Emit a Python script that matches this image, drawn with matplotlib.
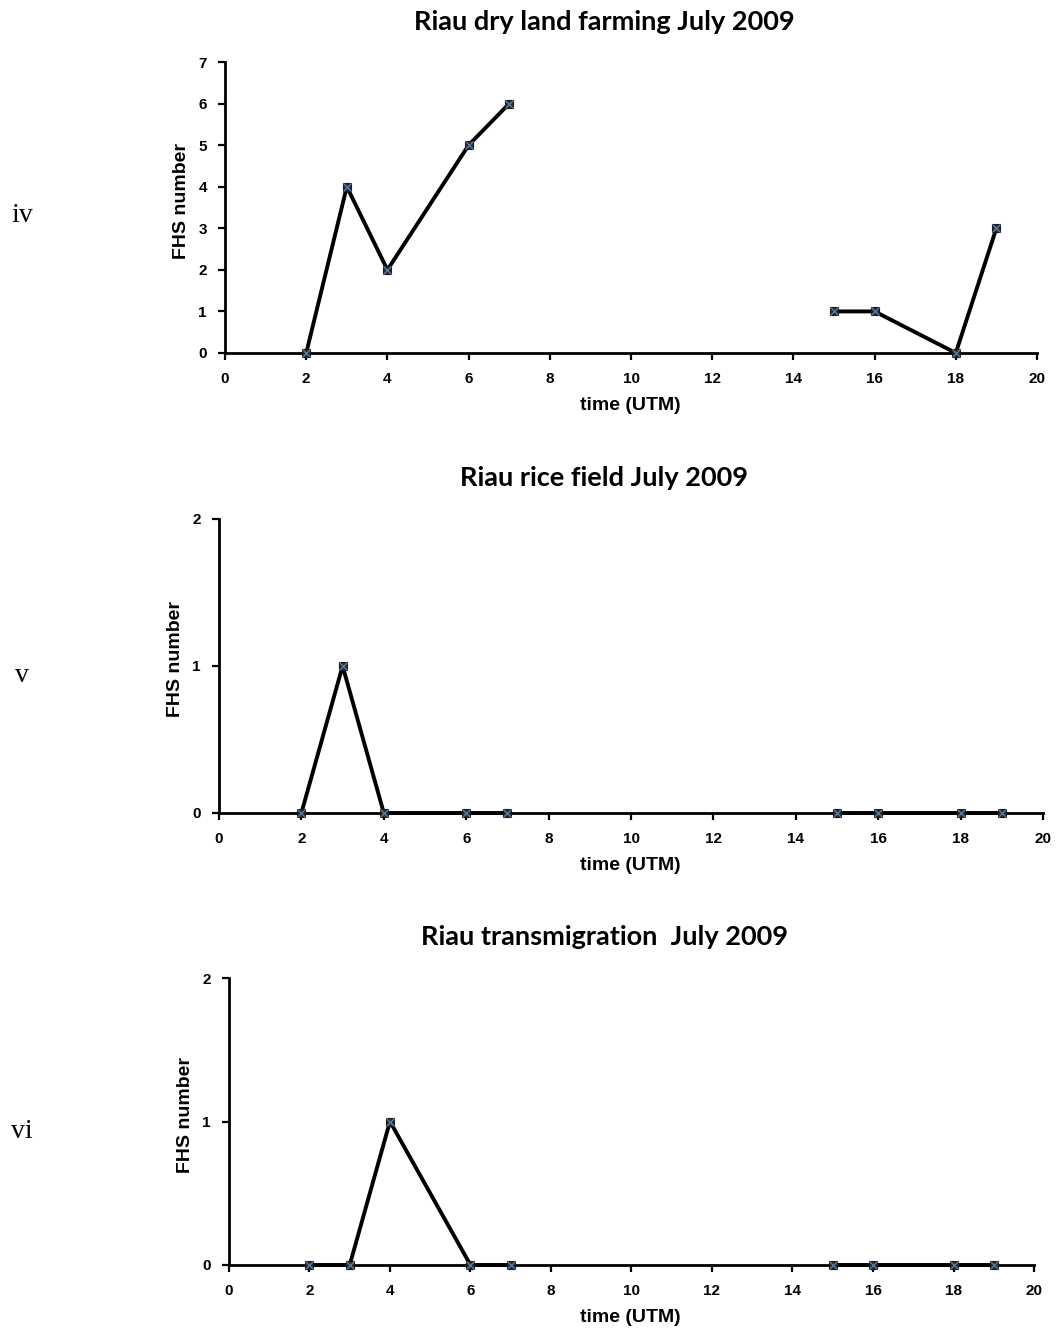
import numpy as np
import matplotlib
matplotlib.use("Agg")
import matplotlib.pyplot as plt

# Observation hours (UTM) and fire hotspot counts per land-use class
hours = [2, 3, 4, 6, 7, np.nan, 15, 16, 18, 19]
dry_land = [0, 4, 2, 5, 6, np.nan, 1, 1, 0, 3]
rice_field = [0, 1, 0, 0, 0, np.nan, 0, 0, 0, 0]
transmigration = [0, 0, 1, 0, 0, np.nan, 0, 0, 0, 0]

x_ticks = [0, 2, 4, 6, 8, 10, 12, 14, 16, 18, 20]

panels = [
    dict(title="Riau dry land farming July 2009", values=dry_land, ymax=7,
         yticks=list(range(8)), tag="iv",
         rect=[0.2125, 0.7348, 0.7667, 0.2186],
         title_y=1 - 22 / 1331, xlabel_y=1 - 406 / 1331, ylabel_x=182 / 1059,
         tag_y=1 - 216 / 1331),
    dict(title="Riau rice field July 2009", values=rice_field, ymax=2,
         yticks=[0, 1, 2], tag="v",
         rect=[0.2068, 0.3892, 0.7781, 0.2209],
         title_y=1 - 478 / 1331, xlabel_y=1 - 866 / 1331, ylabel_x=176 / 1059,
         tag_y=1 - 676 / 1331),
    dict(title="Riau transmigration  July 2009", values=transmigration, ymax=2,
         yticks=[0, 1, 2], tag="vi",
         rect=[0.2162, 0.0496, 0.7602, 0.2156],
         title_y=1 - 937 / 1331, xlabel_y=1 - 1318 / 1331, ylabel_x=185 / 1059,
         tag_y=1 - 1131 / 1331),
]

fig = plt.figure(figsize=(10.59, 13.31), dpi=100)
tick_font = dict(family="Liberation Sans", weight="bold", size=11)

for p in panels:
    ax = fig.add_axes(p["rect"])
    ax.plot(hours, p["values"], color="black", lw=2.8, zorder=3, clip_on=False)
    ax.plot(hours, p["values"], ls="none", marker="s", ms=6,
            mfc="#2b2b2b", mec="#1a1a1a", mew=0.8, zorder=4, clip_on=False)
    ax.plot(hours, p["values"], ls="none", marker="x", ms=5.5,
            mec="#5b7fb0", mew=0.9, zorder=5, clip_on=False)

    ax.set_xlim(0, 20)
    ax.set_ylim(0, p["ymax"])
    ax.set_xticks(x_ticks)
    ax.set_yticks(p["yticks"])
    ax.set_xticklabels([str(t) for t in x_ticks], fontdict=tick_font)
    ax.set_yticklabels([str(t) for t in p["yticks"]], fontdict=tick_font)
    ax.tick_params(direction="out", length=5, width=1.6, color="black")
    ax.tick_params(axis="x", pad=9)
    ax.tick_params(axis="y", pad=8)

    for side in ("top", "right"):
        ax.spines[side].set_visible(False)
    for side in ("left", "bottom"):
        ax.spines[side].set_linewidth(2.0)
        ax.spines[side].set_zorder(2)

    fig.text(0.5705, p["title_y"], p["title"], ha="center", va="center",
             family="Lato", weight="bold", size=19.5)
    fig.text(0.595, p["xlabel_y"], "time (UTM)", ha="center", va="center",
             family="Liberation Sans", weight="bold", size=14)
    fig.text(p["ylabel_x"], p["rect"][1] + p["rect"][3] / 2 + 0.005,
             "FHS number", ha="center", va="center", rotation=90,
             family="Liberation Sans", weight="bold", size=14)
    fig.text(22 / 1059, p["tag_y"], p["tag"], ha="center", va="center",
             family="Liberation Serif", size=20)

fig.savefig("out.png", dpi=100)
